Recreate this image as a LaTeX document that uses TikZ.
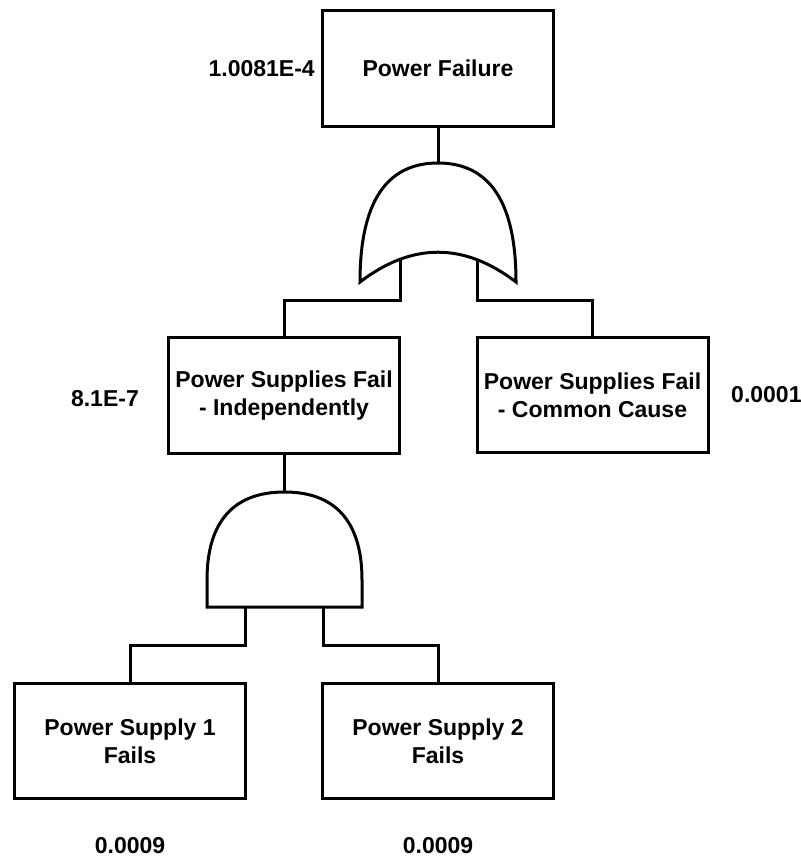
\documentclass[tikz,border=0pt]{standalone}
\usepackage{fontspec}
\setmainfont{Liberation Sans}
\begin{document}
\begin{tikzpicture}[x=1pt,y=-1pt,
  every node/.style={font=\fontsize{23}{27.6}\selectfont\bfseries},
  evbox/.style={draw=black, line width=3pt, fill=white, align=center,
    minimum width=231pt, minimum height=115.5pt, inner sep=0pt},
  lbl/.style={inner sep=0pt},
  wire/.style={draw=black, line width=3pt},
  gateshape/.style={draw=black, line width=3pt, fill=white, line join=miter}]
\useasboundingbox (0,0) rectangle (800,858);

% boxes
\node[evbox] (top) at (438,68.5) {Power Failure};
\node[evbox] (ind) at (284,395.5) {Power Supplies Fail\\- Independently};
\node[evbox] (cc)  at (592.5,395) {Power Supplies Fail\\- Common Cause};
\node[evbox] (ps1) at (130,741) {Power Supply 1\\Fails};
\node[evbox] (ps2) at (438,741) {Power Supply 2\\Fails};

% probability labels
\node[lbl, anchor=east] (p0) at (315,68.5) {1.0081E-4};
\node[lbl, anchor=east] (p1) at (139,399) {8.1E-7};
\node[lbl, anchor=west] (p2) at (731,395) {0.0001};
\node[lbl] (p3) at (130,846) {0.0009};
\node[lbl] (p4) at (438,846) {0.0009};

% gate reference points
\coordinate (orTop) at (438,163);
\coordinate (orL) at (400,250);
\coordinate (orLb) at (400,300);
\coordinate (orR) at (477,250);
\coordinate (orRb) at (477,300);
\coordinate (andTop) at (284,492);
\coordinate (andL) at (245,607);
\coordinate (andLb) at (245,645.5);
\coordinate (andR) at (323,607);
\coordinate (andRb) at (323,645.5);

% connectors
\draw[wire] (top.south) -- (orTop);
\draw[wire] (orL) -- (orLb) -| (ind.north);
\draw[wire] (orR) -- (orRb) -| (cc.north);
\draw[wire] (ind.south) -- (andTop);
\draw[wire] (andL) -- (andLb) -| (ps1.north);
\draw[wire] (andR) -- (andRb) -| (ps2.north);

% OR gate
\draw[gateshape] (360,282) .. controls (360,202.7) and (386,163) .. (438,163)
  .. controls (490,163) and (516,202.7) .. (516,282)
  .. controls (464,242.3) and (412,242.3) .. (360,282) -- cycle;

% AND gate
\draw[gateshape] (207,607) -- (207,580) .. controls (207,520) and (235,492) .. (284.5,492)
  .. controls (334,492) and (362,520) .. (362,580) -- (362,607) -- cycle;
\end{tikzpicture}
\end{document}
